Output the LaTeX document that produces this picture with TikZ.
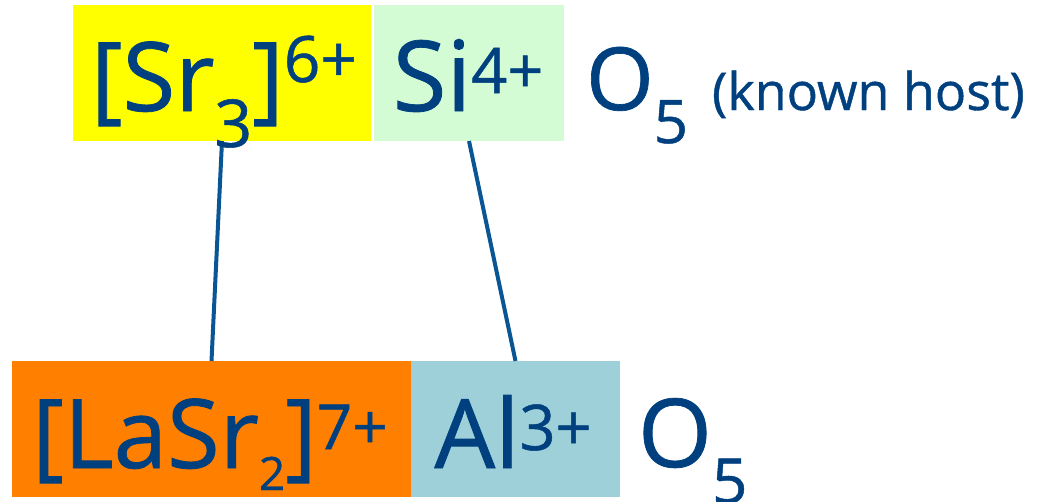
\documentclass[tikz,border=0pt]{standalone}
\usepackage{fontspec}
\setmainfont{Open Sans}
\newfontfamily\heavy{Open Sans}[FakeBold=0.8]
\definecolor{txt}{HTML}{00407F}
\definecolor{linec}{HTML}{0A5594}
\definecolor{ybox}{HTML}{FFFF00}
\definecolor{gbox}{HTML}{D4FCD4}
\definecolor{obox}{HTML}{FF7F00}
\definecolor{bbox}{HTML}{9DD0D8}
\newcommand{\fs}[1]{\fontsize{#1}{#1}\selectfont}
\begin{document}
\begin{tikzpicture}[x=1pt,y=-1pt,
  box/.style={inner sep=0pt, outer sep=0pt, minimum height=136pt},
  lbl/.style={anchor=base, inner sep=0pt, outer sep=0pt, text=txt, font=\heavy},
  link/.style={draw=linec, line width=4pt}]
\useasboundingbox (0,0) rectangle (1044,501);
\node[box, fill=ybox, minimum width=298pt] (sr) at (222,73) {};
\node[box, fill=gbox, minimum width=190pt] (si) at (469,73) {};
\node[box, fill=obox, minimum width=399pt] (lasr) at (211.5,429) {};
\node[box, fill=bbox, minimum width=209pt] (al) at (515.5,429) {};
\draw[link] (sr.south) -- (lasr.north);
\draw[link] (si.south) -- (al.north);
\node[lbl] (t1) at (224,111) {\fs{96}[Sr\raisebox{-36pt}{\fs{66}3}]\raisebox{29pt}{\fs{64}6+}};
\node[lbl] (t2) at (468,111) {\fs{98}Si\raisebox{18pt}{\fs{63}4+}};
\node[lbl, anchor=base west] (t3) at (586,110) {\fs{87}O\raisebox{-33pt}{\fs{60}5}\hspace{24pt}\fs{52}(known host)};
\node[lbl] (t4) at (210,468) {\fs{96}[LaSr\raisebox{-22pt}{\fs{46}2}]\raisebox{19pt}{\fs{62}7+}};
\node[lbl] (t5) at (513,468) {\fs{96}Al\raisebox{18pt}{\fs{63}3+}};
\node[lbl, anchor=base west] (t6) at (638,467) {\fs{95}O\raisebox{-36pt}{\fs{62}5}};
\end{tikzpicture}
\end{document}
